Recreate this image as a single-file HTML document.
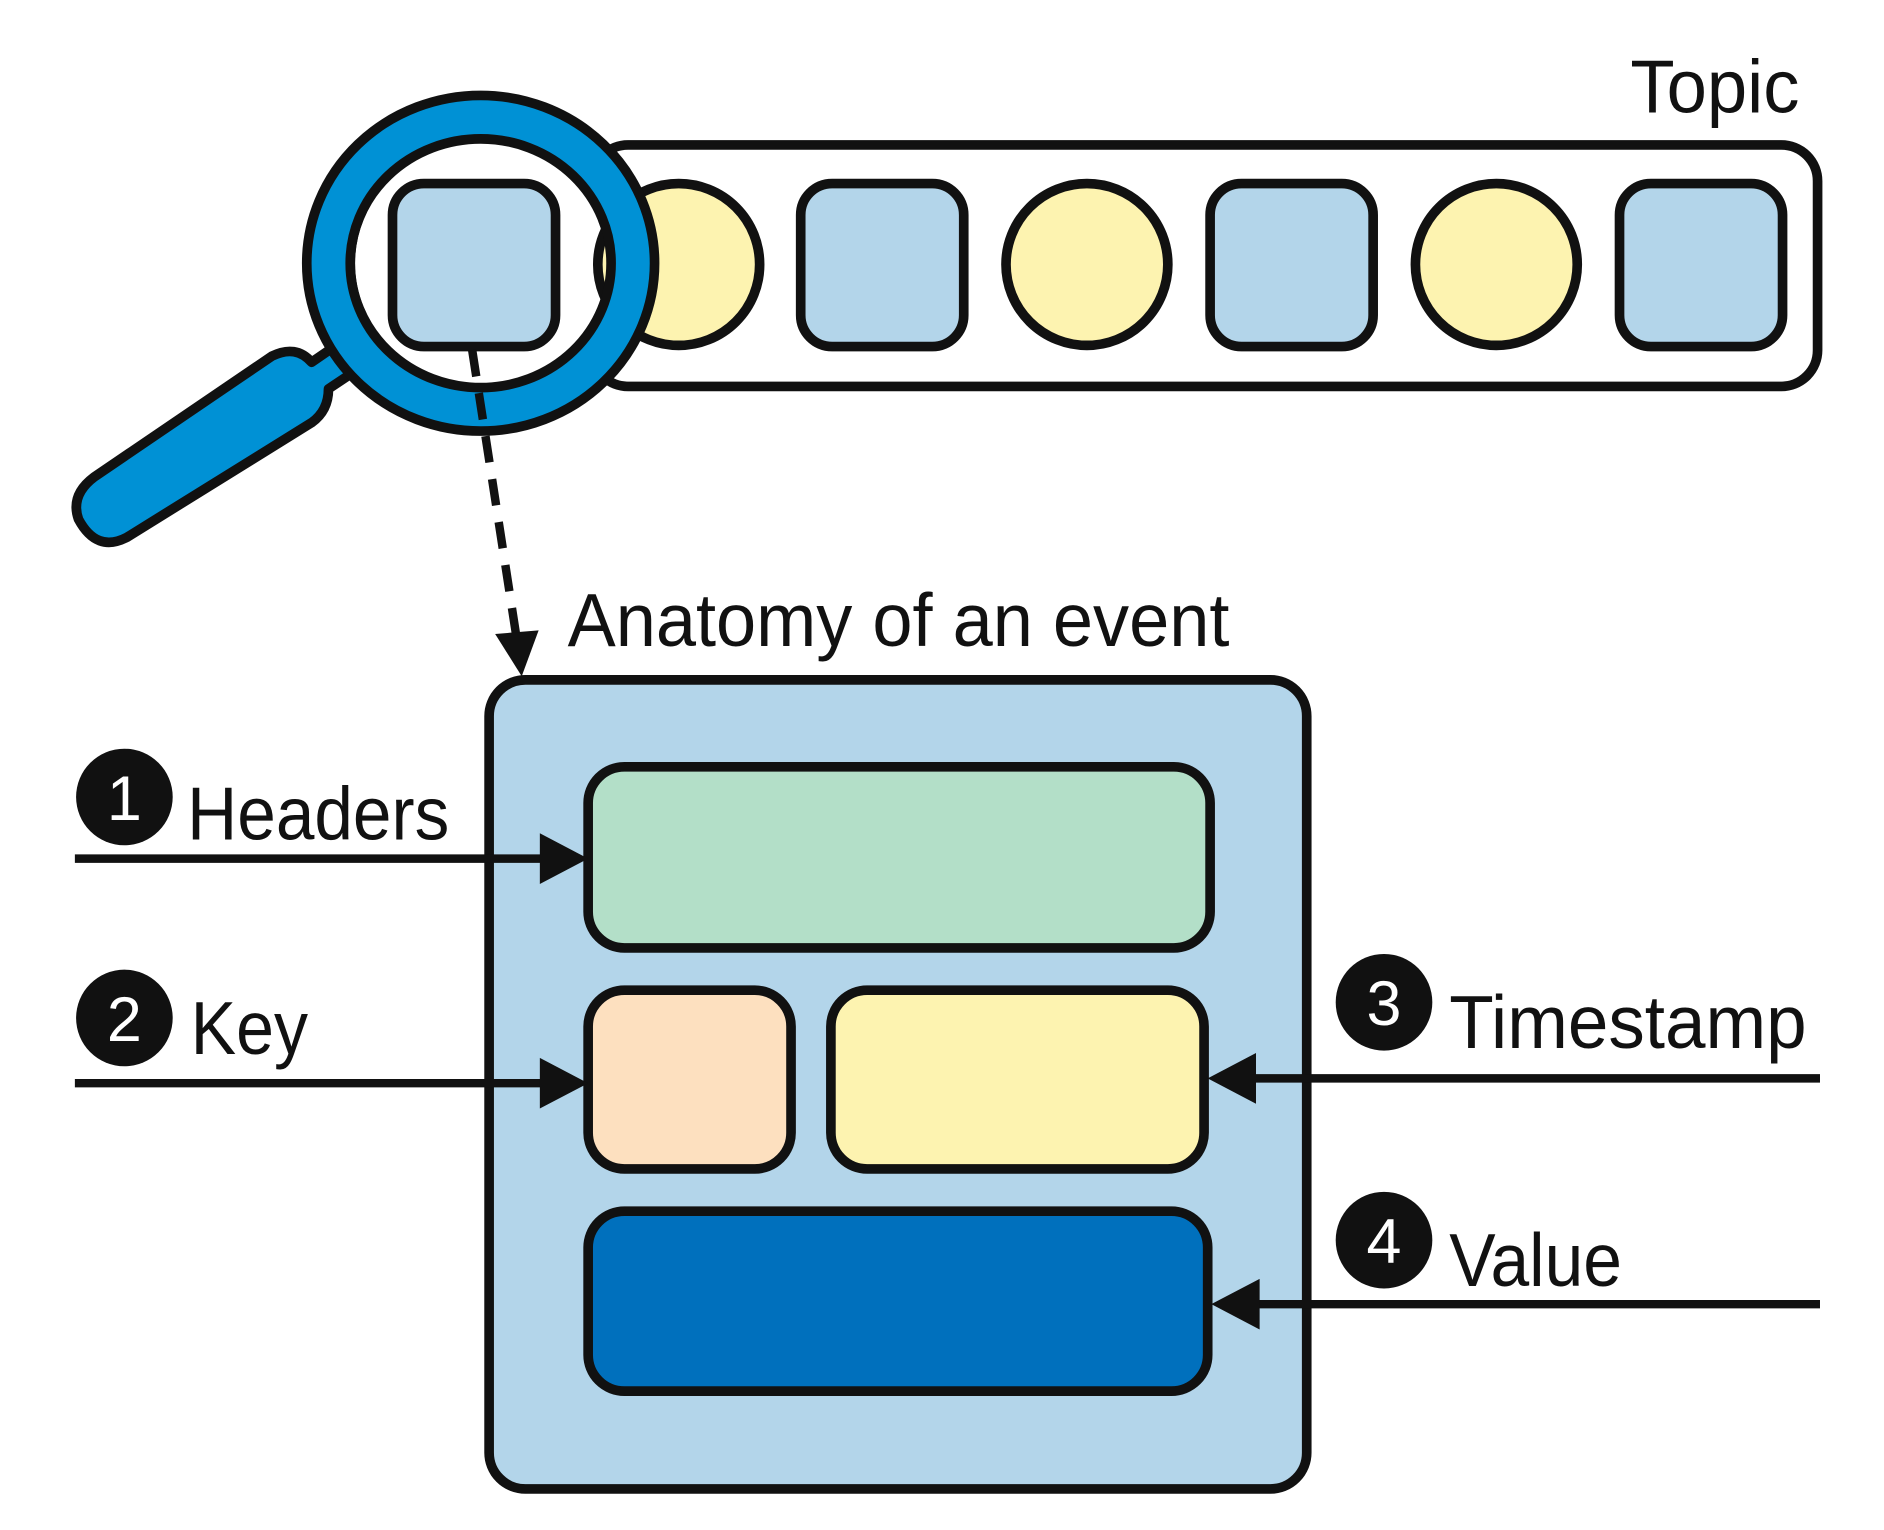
<!DOCTYPE html>
<html><head><meta charset="utf-8"><style>
html,body{margin:0;padding:0;background:#fff;}
svg{display:block;}
text{font-family:"Liberation Sans",sans-serif;fill:#111;}
</style></head><body>
<svg width="1884" height="1530" viewBox="0 0 1560 1267" preserveAspectRatio="none" xmlns="http://www.w3.org/2000/svg">
<defs>
<clipPath id="lens"><ellipse cx="398" cy="218" rx="108" ry="104"/></clipPath>
</defs>
<g stroke="#111" stroke-width="8">
<!-- topic bar -->
<rect x="490" y="120" width="1015" height="200" rx="30" fill="#fff"/>
<circle cx="562" cy="219" r="67" fill="#fdf3b0"/>
<circle cx="900" cy="219" r="67" fill="#fdf3b0"/>
<circle cx="1239" cy="219" r="67" fill="#fdf3b0"/>
<rect x="663" y="152" width="135" height="135" rx="26" fill="#b3d5ea"/>
<rect x="1002" y="152" width="135" height="135" rx="26" fill="#b3d5ea"/>
<rect x="1341" y="152" width="135" height="135" rx="26" fill="#b3d5ea"/>
<!-- magnifier handle -->
<path d="M78 395 L225 295 Q245 285 258 300 L290 278 L305 300 L272 322 Q272 340 258 350 L105 445 Q80 458 65 430 Q58 410 78 395 Z" fill="#0091d5" stroke-linejoin="round"/>
<!-- lens -->
<ellipse cx="398" cy="218" rx="108" ry="104" fill="#fff"/>
<g clip-path="url(#lens)">
<circle cx="562" cy="219" r="67" fill="#fdf3b0"/>
<rect x="325" y="152" width="135" height="135" rx="26" fill="#b3d5ea"/>
</g>
<ellipse cx="398" cy="218" rx="126" ry="121" fill="none" stroke="#111" stroke-width="44"/>
<ellipse cx="398" cy="218" rx="126" ry="121" fill="none" stroke="#0091d5" stroke-width="28"/>
</g>
<!-- dashed arrow -->
<line x1="391" y1="290" x2="428" y2="530" stroke="#111" stroke-width="7" stroke-dasharray="22,14"/>
<polygon points="410,525 446,522 432,560" fill="#111"/>
<text x="470" y="535" font-size="62" textLength="548" lengthAdjust="spacingAndGlyphs">Anatomy of an event</text>
<text x="1350" y="93" font-size="62" textLength="140" lengthAdjust="spacingAndGlyphs">Topic</text>
<!-- event box -->
<g stroke="#111" stroke-width="8">
<rect x="405" y="563" width="677" height="670" rx="30" fill="#b3d5ea"/>
<rect x="487" y="635" width="515" height="150" rx="30" fill="#b3dfc8"/>
<rect x="487" y="820" width="168" height="148" rx="30" fill="#fde0bf"/>
<rect x="688" y="820" width="309" height="148" rx="30" fill="#fdf3b0"/>
<rect x="487" y="1003" width="513" height="149" rx="30" fill="#0070bd"/>
</g>
<!-- arrows -->
<g stroke="#111" stroke-width="7">
<line x1="62" y1="711" x2="455" y2="711"/>
<line x1="62" y1="897" x2="455" y2="897"/>
<line x1="1507" y1="893" x2="1032" y2="893"/>
<line x1="1507" y1="1080" x2="1035" y2="1080"/>
</g>
<g fill="#111">
<polygon points="447,690 487,711 447,732"/>
<polygon points="447,876 487,897 447,918"/>
<polygon points="1040,872 1000,893 1040,914"/>
<polygon points="1043,1059 1003,1080 1043,1101"/>
<circle cx="103" cy="660" r="40"/>
<circle cx="103" cy="843" r="40"/>
<circle cx="1146" cy="830" r="40"/>
<circle cx="1146" cy="1027" r="40"/>
</g>
<g font-size="52" text-anchor="middle">
<text x="103" y="679" style="fill:#fff">1</text>
<text x="103" y="862" style="fill:#fff">2</text>
<text x="1146" y="849" style="fill:#fff">3</text>
<text x="1146" y="1046" style="fill:#fff">4</text>
</g>
<g font-size="62">
<text x="155" y="695" textLength="217" lengthAdjust="spacingAndGlyphs">Headers</text>
<text x="158" y="873" textLength="97" lengthAdjust="spacingAndGlyphs">Key</text>
<text x="1200" y="868" textLength="296" lengthAdjust="spacingAndGlyphs">Timestamp</text>
<text x="1200" y="1065" textLength="143" lengthAdjust="spacingAndGlyphs">Value</text>
</g>
</svg>
</body></html>
